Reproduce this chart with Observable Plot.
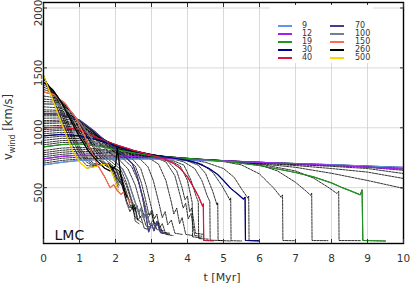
<!DOCTYPE html>
<html>
<head>
<meta charset="utf-8">
<script src="https://cdn.jsdelivr.net/npm/d3@7"></script>
<script src="https://cdn.jsdelivr.net/npm/@observablehq/plot@0.6"></script>
<style>
  html, body { margin: 0; padding: 0; background: white; }
  #wrap { position: relative; width: 411px; height: 288px; font-family: "DejaVu Sans", sans-serif; }
  #legend { position: absolute; left: 270px; top: 5px; width: 103px; height: 58px; background: white; }
  .sw { position: absolute; height: 1.6px; width: 14px; }
  .lb { position: absolute; font-size: 8px; line-height: 8px; height: 8px; color: #333; }
</style>
</head>
<body>
<div id="wrap"><div id="legend"></div></div>
<script>
// ---- axis ticks ----
const xTicks = [0,1,2,3,4,5,6,7,8,9,10];
const yTicks = [500,1000,1500,2000];

// ---- highlighted masses (legend) ----
const legendMasses = ["9","12","19","30","40","70","100","150","260","500"];
const legendColors = ["#6495ed","#a020f0","#1f961f","#00008b","#dc143c","#483d8b","#708090","#ff6a50","#000000","#ffd700"];

// ---- wind-velocity tracks [t (Myr), v (km/s)] ----
const m9   = [[0,690],[0.5,712],[1,728],[2,740],[3,740],[4,732],[5,722],[6,712],[7,702],[8,692],[9,681],[10,670]];
const m10  = [[0,705],[0.5,727],[1,740],[2,748],[3,744],[4,734],[5,724],[6,712],[7,702],[8,692],[9,680],[10,668]];
const m11  = [[0,722],[0.5,745],[1,755],[2,758],[3,748],[4,736],[5,725],[6,712],[7,701],[8,690],[9,678],[10,665]];
const m12  = [[0,740],[0.5,762],[1,772],[2,768],[3,752],[4,738],[5,726],[6,712],[7,700],[8,688],[9,672],[10,655]];
const m13  = [[0,758],[0.5,778],[1,790],[2,780],[3,755],[4,740],[5,726],[6,710],[7,697],[8,685],[9,670],[10,645]];
const m14  = [[0,775],[0.5,795],[1,805],[2,790],[3,758],[4,742],[5,726],[6,708],[7,692],[8,678],[9,660],[10,618]];
const m15  = [[0,792],[0.5,812],[1,822],[2,800],[3,760],[4,742],[5,725],[6,705],[7,685],[8,660],[9,630],[10,577]];
const m16  = [[0,810],[0.5,830],[1,838],[2,808],[3,762],[4,742],[5,722],[6,700],[7,670],[8,620],[9,560],[10,494]];
const m19  = [[0,840],[0.5,860],[1,865],[1.5,848],[2,818],[3,766],[4,744],[5,722],[6,685],[7,627],[7.5,590],[8,540],[8.3,500],[8.6,465],[8.8,440],[8.85,482],[8.87,59],[9.5,55]];
const m20  = [[0,858],[0.5,877],[1,880],[1.5,857],[2,823],[3,768],[4,745],[5,725],[6,697],[7,640],[7.5,580],[7.9,505],[8.15,452],[8.2,470],[8.21,59],[8.8,58]];
const m22  = [[0,875],[0.5,893],[1,895],[1.5,868],[2,830],[2.5,797],[3,770],[4,745],[5,725],[6,690],[6.5,640],[7,545],[7.3,470],[7.42,436],[7.45,455],[7.46,59],[7.9,58]];
const m25  = [[0,895],[0.5,912],[1,910],[1.5,880],[2,838],[2.5,800],[3,772],[4,745],[5,718],[5.5,690],[6,615],[6.4,495],[6.6,420],[6.64,440],[6.65,59],[7,57]];
const m28  = [[0,915],[0.5,930],[1,925],[1.5,895],[2,845],[2.5,802],[3,774],[3.5,755],[4,738],[4.5,712],[5,660],[5.3,585],[5.5,490],[5.68,412],[5.7,430],[5.71,58],[6,55]];
const m30  = [[0,932],[0.5,945],[1,935],[1.5,900],[2,850],[2.5,805],[3,775],[3.5,752],[4,728],[4.28,705],[4.6,660],[4.83,612],[5,560],[5.2,494],[5.4,445],[5.55,405],[5.6,420],[5.61,59],[5.97,57]];
const m32  = [[0,950],[0.5,962],[1,955],[1.5,895],[2,848],[2.5,806],[3,777],[3.5,754],[4,730],[4.4,696],[4.7,628],[4.95,520],[5.1,440],[5.18,395],[5.2,415],[5.21,58],[5.5,55]];
const m35  = [[0,968],[0.5,980],[1,970],[1.5,905],[2,852],[2.5,808],[3,778],[3.5,750],[4,722],[4.3,688],[4.5,620],[4.7,470],[4.82,355],[4.84,375],[4.85,60],[5.2,55]];
const m38  = [[0,985],[0.5,992],[1,978],[1.5,910],[2,856],[2.5,810],[3,775],[3.5,748],[3.9,715],[4.2,660],[4.4,560],[4.55,430],[4.62,385],[4.63,62],[4.95,58]];
const m40  = [[0,1000],[0.5,1005],[1,985],[1.5,915],[2,860],[2.5,812],[3,772],[3.33,743],[3.6,705],[3.8,660],[4,590],[4.17,502],[4.3,430],[4.42,345],[4.44,365],[4.45,59],[4.72,57]];
const m42  = [[0,1015],[0.5,1020],[1,998],[1.5,920],[2,858],[2.5,810],[3,774],[3.5,738],[3.9,688],[4.1,560],[4.25,420],[4.3,382],[4.31,75],[4.6,70]];
const m45  = [[0,1035],[0.5,1040],[1,1012],[1.5,925],[2,855],[2.5,805],[3,770],[3.5,730],[3.8,680],[4,560],[4.1,420],[4.13,377],[4.14,90],[4.4,80]];
const m48  = [[0,1048],[0.5,1052],[1,1022],[1.5,928],[2,852],[2.5,802],[3,768],[3.45,722],[3.7,640],[3.85,500],[3.93,400],[4,430],[4.06,300],[4.12,330],[4.22,120],[4.45,110]];
const m50  = [[0,1060],[0.5,1064],[1,1030],[1.5,930],[2,850],[2.5,800],[3,765],[3.4,715],[3.65,600],[3.8,430],[3.88,330],[3.95,370],[4.02,240],[4.1,285],[4.2,100],[4.4,95]];
const m55  = [[0,1080],[0.5,1082],[1,1045],[1.5,935],[2,848],[2.5,795],[2.9,755],[3.2,695],[3.4,560],[3.55,380],[3.62,280],[3.7,330],[3.78,200],[3.85,250],[3.95,110],[4.15,100]];
const m60  = [[0,1100],[0.5,1100],[1,1055],[1.5,940],[2,842],[2.4,785],[2.7,735],[2.9,675],[3.05,560],[3.2,380],[3.3,250],[3.38,300],[3.45,190],[3.55,230],[3.65,120],[3.85,110]];
const m65  = [[0,1110],[0.5,1108],[1,1060],[1.45,955],[1.9,850],[2.25,775],[2.5,730],[2.7,660],[2.85,520],[3,330],[3.08,240],[3.15,280],[3.22,160],[3.3,200],[3.4,110],[3.6,100]];
const m70  = [[0,1120],[0.5,1115],[1,1065],[1.4,975],[1.8,870],[2.1,800],[2.3,750],[2.47,700],[2.6,600],[2.75,420],[2.85,260],[2.92,130],[3,200],[3.07,140],[3.15,215],[3.25,125],[3.45,115]];
const m75  = [[0,1135],[0.5,1130],[1,1062],[1.35,980],[1.7,885],[2,810],[2.3,745],[2.55,680],[2.72,540],[2.85,380],[2.93,270],[3,310],[3.08,180],[3.15,220],[3.28,120],[3.5,110]];
const m80  = [[0,1150],[0.5,1145],[1,1060],[1.3,985],[1.6,895],[1.9,815],[2.2,745],[2.45,675],[2.65,540],[2.8,380],[2.9,250],[3,290],[3.1,170],[3.2,210],[3.3,130],[3.5,120]];
const m90  = [[0,1175],[0.5,1165],[0.9,1075],[1.2,990],[1.5,890],[1.8,800],[2.1,735],[2.35,655],[2.55,520],[2.7,360],[2.8,260],[2.85,300],[2.95,190],[3.05,230],[3.15,150],[3.35,140]];
const m100 = [[0,1200],[0.4,1195],[0.8,1125],[1.1,1005],[1.4,885],[1.7,785],[2,715],[2.2,655],[2.35,560],[2.5,420],[2.6,330],[2.65,280],[2.7,330],[2.78,240],[2.85,300],[2.95,200],[3.1,190]];
const m110 = [[0,1220],[0.4,1212],[0.75,1140],[1.05,1020],[1.35,885],[1.65,775],[1.95,700],[2.15,650],[2.3,545],[2.45,400],[2.55,310],[2.6,350],[2.68,250],[2.75,280],[2.85,180],[3,170]];
const m120 = [[0,1240],[0.4,1228],[0.7,1150],[1,1030],[1.3,885],[1.6,765],[1.9,690],[2.1,640],[2.3,520],[2.45,380],[2.5,300],[2.55,340],[2.62,230],[2.7,260],[2.8,160],[2.95,150]];
const m130 = [[0,1265],[0.35,1250],[0.65,1175],[0.95,1055],[1.2,930],[1.45,800],[1.7,710],[1.95,665],[2.15,600],[2.3,470],[2.4,360],[2.47,320],[2.52,360],[2.6,240],[2.72,210]];
const m150 = [[0,1300],[0.3,1275],[0.6,1205],[0.9,1080],[1.1,960],[1.3,820],[1.5,690],[1.7,590],[1.85,500],[1.95,525],[2.05,475],[2.15,445],[2.25,470],[2.35,400],[2.42,380]];
const m175 = [[0,1320],[0.3,1290],[0.6,1195],[0.9,1045],[1.15,905],[1.4,780],[1.65,700],[1.9,650],[2.05,620],[2.2,500],[2.32,380],[2.4,330],[2.47,360],[2.55,250],[2.62,230]];
const m200 = [[0,1340],[0.3,1300],[0.6,1180],[0.9,1010],[1.2,860],[1.5,745],[1.8,682],[2,660],[2.15,560],[2.3,380],[2.4,300],[2.48,340],[2.55,220],[2.65,200]];
const m225 = [[0,1360],[0.25,1315],[0.5,1220],[0.75,1085],[1,950],[1.25,830],[1.5,740],[1.75,680],[1.95,665],[2.1,640],[2.2,540],[2.3,440],[2.38,400]];
const m260 = [[0,1380],[0.25,1320],[0.5,1210],[0.75,1065],[1,925],[1.25,805],[1.5,720],[1.7,662],[1.85,640],[2,680],[2.05,828],[2.08,760],[2.15,600],[2.25,470],[2.32,420]];
const m300 = [[0,1405],[0.2,1335],[0.4,1230],[0.6,1100],[0.8,960],[1,840],[1.2,752],[1.4,702],[1.6,690],[1.8,705],[1.9,680],[2,620],[2.1,560],[2.15,530]];
const m350 = [[0,1415],[0.2,1328],[0.4,1210],[0.6,1070],[0.8,930],[1,815],[1.2,730],[1.4,690],[1.6,690],[1.8,702],[1.92,660],[2.02,590],[2.12,540]];
const m400 = [[0,1425],[0.2,1318],[0.4,1185],[0.6,1040],[0.8,900],[1,790],[1.2,712],[1.4,682],[1.6,690],[1.8,700],[1.95,640],[2.05,560],[2.1,520]];
const m450 = [[0,1432],[0.2,1300],[0.4,1150],[0.6,1000],[0.8,855],[1,750],[1.2,685],[1.4,678],[1.6,690],[1.8,700],[1.9,650],[2,575],[2.08,500]];
const m500 = [[0,1440],[0.2,1280],[0.4,1120],[0.6,960],[0.8,812],[1,715],[1.2,662],[1.4,675],[1.6,690],[1.78,700],[1.85,660],[1.95,590],[2.05,500],[2.07,480]];

const dashedTracks = [m9,m10,m11,m12,m13,m14,m15,m16,m19,m20,m22,m25,m28,m30,m32,m35,m38,m40,m42,m45,m48,m50,m55,m60,m65,m70,m75,m80,m90,m100,m110,m120,m130,m150,m175,m200,m225,m260,m300,m350,m400,m450,m500];
const coloredTracks = [m9,m12,m19,m30,m40,m70,m100,m150,m260,m500];

// ---- build tables ----
const dashedData = dashedTracks.flatMap((tr, i) => tr.map(([t, v]) => ({id: i, t, v})));
const coloredData = coloredTracks.flatMap((tr, i) => tr.map(([t, v]) => ({id: legendMasses[i], t, v, c: legendColors[i]})));

const chart = Plot.plot({
  width: 411, height: 288,
  marginLeft: 43, marginRight: 8, marginTop: 2, marginBottom: 45,
  style: {fontFamily: "DejaVu Sans", fontSize: "10.5px", color: "#333", background: "white"},
  x: {domain: [0, 10], label: null},
  y: {domain: [34, 2046], label: null},
  marks: [
    Plot.gridX(xTicks, {stroke: "#cfcfcf", strokeOpacity: 1, strokeWidth: 0.8}),
    Plot.gridY(yTicks, {stroke: "#cfcfcf", strokeOpacity: 1, strokeWidth: 0.8}),
    Plot.line(dashedData, {x: "t", y: "v", z: "id", stroke: "black", strokeWidth: 0.8, strokeDasharray: "2.2,1.1"}),
    Plot.line(coloredData, {x: "t", y: "v", z: "id", stroke: "c", strokeWidth: 1.2}),
    Plot.text(["LMC"], {frameAnchor: "bottom-left", dx: 11, dy: -4, fontSize: 14, textAnchor: "start", lineAnchor: "bottom", fill: "#111"}),
    Plot.frame({stroke: "black", strokeWidth: 1.4}),
    Plot.axisX(xTicks, {anchor: "bottom", tickSize: -4, tickFormat: () => "", label: null}),
    Plot.axisX(xTicks, {anchor: "top", tickSize: -4, tickFormat: () => "", label: null}),
    Plot.axisY(yTicks, {anchor: "left", tickSize: -4, tickFormat: () => "", label: null}),
    Plot.axisY(yTicks, {anchor: "right", tickSize: -4, tickFormat: () => "", label: null}),
    Plot.axisX(xTicks, {anchor: "bottom", tickSize: 0, tickPadding: 11, label: null}),
    Plot.axisY(yTicks, {anchor: "left", tickSize: 0, tickPadding: 2, tickRotate: -90, dy: 5, tickFormat: d3.format("d"), label: null})
  ]
});

const wrap = document.getElementById("wrap");
wrap.insertBefore(chart, wrap.firstChild);

// axis titles
const svg = d3.select(chart);
const yt = svg.append("text")
  .attr("transform", "translate(12,127) rotate(-90)")
  .attr("text-anchor", "middle")
  .attr("font-family", "DejaVu Sans")
  .attr("font-size", 11.5)
  .attr("fill", "#333");
yt.append("tspan").text("v");
yt.append("tspan").attr("font-size", 8).attr("dy", 3).text("wind");
yt.append("tspan").attr("dy", -3).text(" [km/s]");
svg.append("text")
  .attr("x", 222).attr("y", 281)
  .attr("text-anchor", "middle")
  .attr("font-family", "DejaVu Sans")
  .attr("font-size", 11)
  .attr("fill", "#333")
  .text("t [Myr]");

// legend
const lg = document.getElementById("legend");
legendMasses.forEach((m, i) => {
  const col = Math.floor(i / 5), row = i % 5;
  const sw = document.createElement("div");
  sw.className = "sw";
  sw.style.left = (8 + col * 52) + "px";
  sw.style.top = (20 + row * 8) + "px";
  sw.style.background = legendColors[i];
  lg.appendChild(sw);
  const lb = document.createElement("div");
  lb.className = "lb";
  lb.style.left = (32 + col * 53) + "px";
  lb.style.top = (17 + row * 8) + "px";
  lb.textContent = m;
  lg.appendChild(lb);
});
</script>
</body>
</html>
